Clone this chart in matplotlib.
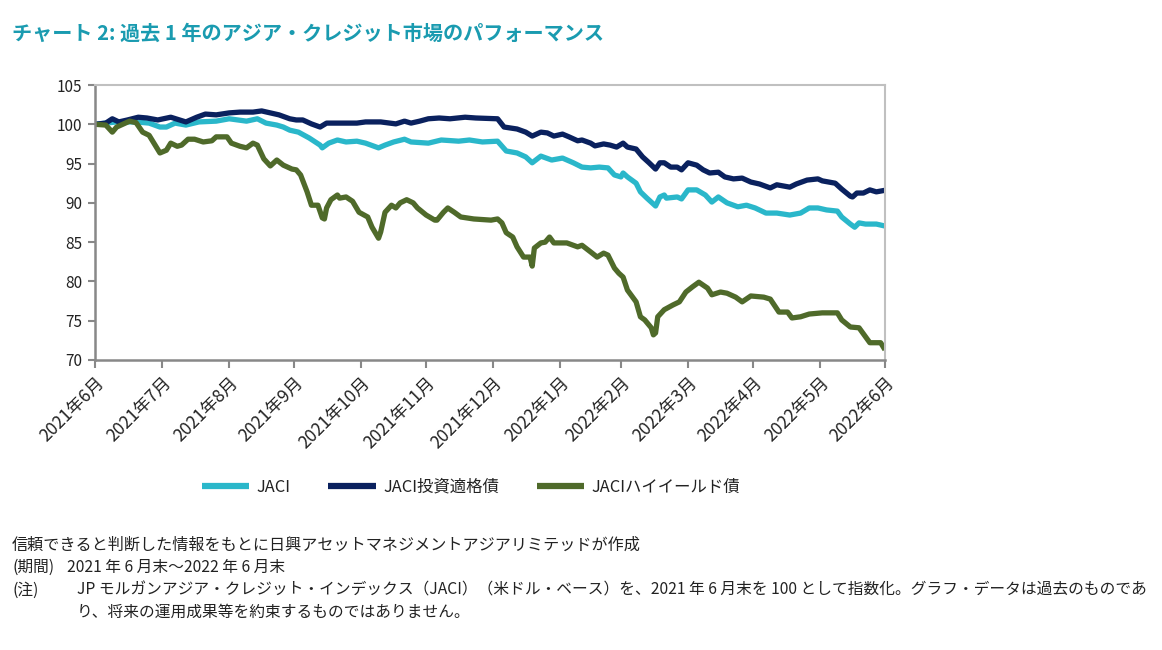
import matplotlib
matplotlib.use("Agg")
import matplotlib.pyplot as plt
import pandas as pd

plt.rcParams['font.family'] = ['Noto Sans CJK JP', 'DejaVu Sans']

title = "チャート 2: 過去 1 年のアジア・クレジット市場のパフォーマンス"
series_names = ["JACI", "JACI投資適格債", "JACIハイイールド債"]

jaci_dates = ["2021-06-30", "2021-07-05", "2021-07-10", "2021-07-19", "2021-07-25", "2021-07-30",
              "2021-08-02", "2021-08-06", "2021-08-11", "2021-08-17", "2021-08-25", "2021-08-31",
              "2021-09-08", "2021-09-13", "2021-09-17", "2021-09-22", "2021-09-25", "2021-09-28",
              "2021-10-02", "2021-10-07", "2021-10-12", "2021-10-13", "2021-10-16", "2021-10-20",
              "2021-10-24", "2021-10-29", "2021-11-02", "2021-11-08", "2021-11-11", "2021-11-15",
              "2021-11-20", "2021-11-23", "2021-12-01", "2021-12-07", "2021-12-15", "2021-12-20",
              "2021-12-26", "2022-01-02", "2022-01-06", "2022-01-11", "2022-01-15", "2022-01-18",
              "2022-01-22", "2022-01-27", "2022-02-01", "2022-02-06", "2022-02-10", "2022-02-14",
              "2022-02-18", "2022-02-22", "2022-02-25", "2022-02-28", "2022-03-01", "2022-03-03",
              "2022-03-07", "2022-03-09", "2022-03-12", "2022-03-16", "2022-03-18", "2022-03-20",
              "2022-03-21", "2022-03-26", "2022-03-28", "2022-03-31", "2022-04-04", "2022-04-08",
              "2022-04-11", "2022-04-14", "2022-04-18", "2022-04-23", "2022-04-27", "2022-05-01",
              "2022-05-06", "2022-05-11", "2022-05-17", "2022-05-22", "2022-05-26", "2022-05-30",
              "2022-06-03", "2022-06-08", "2022-06-10", "2022-06-14", "2022-06-16", "2022-06-18",
              "2022-06-21", "2022-06-26", "2022-06-30"]
jaci_vals = [100.0, 100.15, 100.3, 100.3, 100.15, 99.65,
             99.65, 100.15, 99.9, 100.3, 100.4, 100.7,
             100.4, 100.7, 100.15, 99.9, 99.65, 99.25,
             99.0, 98.25, 97.35, 97.0, 97.6, 98.0,
             97.75, 97.85, 97.6, 97.0, 97.35, 97.75,
             98.1, 97.75, 97.6, 98.0, 97.85, 98.0,
             97.75, 97.85, 96.6, 96.35, 95.85, 95.1,
             95.95, 95.45, 95.7, 95.1, 94.55, 94.45,
             94.55, 94.45, 93.55, 93.3, 93.8, 93.3,
             92.5, 91.4, 90.6, 89.6, 90.75, 91.0,
             90.6, 90.75, 90.5, 91.65, 91.65, 91.0,
             90.1, 90.75, 90.0, 89.5, 89.7, 89.35,
             88.7, 88.7, 88.45, 88.7, 89.35, 89.35,
             89.1, 88.95, 88.2, 87.3, 86.9, 87.45,
             87.3, 87.3, 87.05]

ig_dates = ["2021-06-30", "2021-07-05", "2021-07-08", "2021-07-11", "2021-07-15", "2021-07-20",
            "2021-07-24", "2021-07-29", "2021-08-04", "2021-08-11", "2021-08-16", "2021-08-20",
            "2021-08-25", "2021-08-31", "2021-09-05", "2021-09-11", "2021-09-15", "2021-09-19",
            "2021-09-23", "2021-09-28", "2021-10-01", "2021-10-04", "2021-10-08", "2021-10-12",
            "2021-10-15", "2021-10-20", "2021-10-24", "2021-10-29", "2021-11-02", "2021-11-09",
            "2021-11-16", "2021-11-20", "2021-11-23", "2021-11-27", "2021-12-01", "2021-12-06",
            "2021-12-11", "2021-12-18", "2021-12-23", "2022-01-02", "2022-01-05", "2022-01-11",
            "2022-01-15", "2022-01-18", "2022-01-22", "2022-01-25", "2022-01-28", "2022-02-01",
            "2022-02-04", "2022-02-08", "2022-02-10", "2022-02-14", "2022-02-16", "2022-02-20",
            "2022-02-23", "2022-02-26", "2022-03-01", "2022-03-03", "2022-03-07", "2022-03-10",
            "2022-03-13", "2022-03-16", "2022-03-18", "2022-03-20", "2022-03-23", "2022-03-26",
            "2022-03-28", "2022-03-31", "2022-04-04", "2022-04-07", "2022-04-10", "2022-04-14",
            "2022-04-17", "2022-04-21", "2022-04-25", "2022-04-29", "2022-05-03", "2022-05-08",
            "2022-05-11", "2022-05-17", "2022-05-20", "2022-05-25", "2022-05-30", "2022-06-01",
            "2022-06-07", "2022-06-10", "2022-06-14", "2022-06-15", "2022-06-17", "2022-06-20",
            "2022-06-23", "2022-06-26", "2022-06-30"]
ig_vals = [100.0, 100.15, 100.7, 100.3, 100.55, 100.9,
           100.8, 100.55, 100.9, 100.3, 100.9, 101.3,
           101.2, 101.45, 101.55, 101.55, 101.7, 101.45,
           101.2, 100.7, 100.55, 100.55, 100.05, 99.65,
           100.15, 100.15, 100.15, 100.15, 100.3, 100.3,
           100.05, 100.4, 100.15, 100.4, 100.7, 100.8,
           100.7, 100.9, 100.8, 100.7, 99.65, 99.4,
           99.0, 98.5, 99.0, 98.9, 98.5, 98.75,
           98.4, 97.9, 98.0, 97.6, 97.25, 97.5,
           97.35, 97.1, 97.6, 97.1, 96.85, 95.85,
           95.1, 94.3, 95.1, 95.1, 94.55, 94.55,
           94.2, 95.1, 94.8, 94.2, 93.8, 93.9,
           93.3, 93.05, 93.15, 92.65, 92.4, 91.9,
           92.3, 92.0, 92.4, 92.9, 93.05, 92.8,
           92.5, 91.75, 90.85, 90.75, 91.25, 91.25,
           91.65, 91.4, 91.6]

hy_dates = ["2021-06-30", "2021-07-05", "2021-07-08", "2021-07-10", "2021-07-16", "2021-07-19",
            "2021-07-22", "2021-07-25", "2021-07-30", "2021-08-02", "2021-08-04", "2021-08-07",
            "2021-08-09", "2021-08-12", "2021-08-15", "2021-08-19", "2021-08-23", "2021-08-25",
            "2021-08-30", "2021-09-01", "2021-09-05", "2021-09-08", "2021-09-11", "2021-09-13",
            "2021-09-16", "2021-09-19", "2021-09-22", "2021-09-25", "2021-09-29", "2021-10-01",
            "2021-10-03", "2021-10-06", "2021-10-08", "2021-10-11", "2021-10-13", "2021-10-14",
            "2021-10-15", "2021-10-17", "2021-10-20", "2021-10-21", "2021-10-24", "2021-10-27",
            "2021-10-30", "2021-11-03", "2021-11-05", "2021-11-08", "2021-11-09", "2021-11-11",
            "2021-11-14", "2021-11-16", "2021-11-18", "2021-11-21", "2021-11-24", "2021-11-26",
            "2021-11-30", "2021-12-04", "2021-12-05", "2021-12-08", "2021-12-10", "2021-12-13",
            "2021-12-16", "2021-12-22", "2021-12-30", "2022-01-02", "2022-01-04", "2022-01-06",
            "2022-01-09", "2022-01-11", "2022-01-14", "2022-01-17", "2022-01-18", "2022-01-19",
            "2022-01-22", "2022-01-24", "2022-01-26", "2022-01-28", "2022-02-03", "2022-02-08",
            "2022-02-10", "2022-02-14", "2022-02-17", "2022-02-20", "2022-02-22", "2022-02-25",
            "2022-02-27", "2022-03-01", "2022-03-03", "2022-03-07", "2022-03-09", "2022-03-11",
            "2022-03-14", "2022-03-15", "2022-03-16", "2022-03-17", "2022-03-20", "2022-03-24",
            "2022-03-27", "2022-03-30", "2022-04-02", "2022-04-05", "2022-04-09", "2022-04-11",
            "2022-04-15", "2022-04-18", "2022-04-22", "2022-04-25", "2022-04-29", "2022-05-05",
            "2022-05-08", "2022-05-12", "2022-05-16", "2022-05-18", "2022-05-22", "2022-05-26",
            "2022-06-01", "2022-06-08", "2022-06-10", "2022-06-14", "2022-06-18", "2022-06-23",
            "2022-06-28", "2022-06-30"]
hy_vals = [100.0, 99.9, 99.0, 99.65, 100.4, 100.2,
           99.0, 98.6, 96.35, 96.7, 97.6, 97.2,
           97.35, 98.1, 98.1, 97.75, 97.9, 98.4,
           98.4, 97.6, 97.2, 97.0, 97.6, 97.35,
           95.6, 94.7, 95.45, 94.8, 94.3, 94.2,
           93.55, 91.4, 89.7, 89.7, 88.1, 87.95,
           89.35, 90.4, 91.0, 90.6, 90.75, 90.2,
           88.8, 88.2, 86.9, 85.5, 86.3, 88.8,
           89.7, 89.35, 90.0, 90.4, 90.0, 89.35,
           88.45, 87.8, 87.8, 88.8, 89.35, 88.8,
           88.2, 87.95, 87.8, 87.95, 87.45, 86.2,
           85.65, 84.4, 83.1, 83.1, 81.95, 84.25,
           84.9, 85.0, 85.65, 84.9, 84.9, 84.4,
           84.6, 83.75, 83.1, 83.6, 83.35, 81.7,
           81.05, 80.55, 78.9, 77.4, 75.5, 75.1,
           74.1, 73.2, 73.45, 75.5, 76.4, 77.0,
           77.4, 78.65, 79.3, 79.9, 79.15, 78.3,
           78.65, 78.5, 78.0, 77.4, 78.15, 78.0,
           77.75, 76.1, 76.1, 75.35, 75.5, 75.85,
           76.0, 76.0, 75.1, 74.2, 74.1, 72.2,
           72.2, 71.3]

tick_dates = ["2021-06-30", "2021-07-31", "2021-08-31", "2021-09-30", "2021-10-31", "2021-11-30",
              "2021-12-31", "2022-01-31", "2022-02-28", "2022-03-31", "2022-04-30", "2022-05-31",
              "2022-06-30"]
tick_labels = ["2021年6月", "2021年7月", "2021年8月", "2021年9月", "2021年10月", "2021年11月",
               "2021年12月", "2022年1月", "2022年2月", "2022年3月", "2022年4月", "2022年5月",
               "2022年6月"]
y_ticks = [70, 75, 80, 85, 90, 95, 100, 105]

colors = ["#2AB7CA", "#0A215E", "#4F6A2A"]

fig = plt.figure(figsize=(11.62, 6.5), dpi=100)
ax = fig.add_axes([95 / 1162, 1 - 360 / 650, 790 / 1162, 275 / 650])

for dates, vals, name, c in [(jaci_dates, jaci_vals, series_names[0], colors[0]),
                             (ig_dates, ig_vals, series_names[1], colors[1]),
                             (hy_dates, hy_vals, series_names[2], colors[2])]:
    ax.plot(pd.to_datetime(dates), vals, color=c, lw=3.8, label=name,
            solid_joinstyle='round', solid_capstyle='butt')

ax.set_xlim(pd.Timestamp(tick_dates[0]), pd.Timestamp(tick_dates[-1]))
ax.set_ylim(70, 105)
ax.set_yticks(y_ticks)
ax.set_yticklabels([str(v) for v in y_ticks], fontsize=11, color="#222222")
ax.set_xticks(pd.to_datetime(tick_dates))
ax.set_xticklabels(tick_labels, rotation=45, ha='right', rotation_mode='anchor',
                   fontsize=12.5, color="#222222")
ax.tick_params(axis='x', direction='out', length=6, width=1.5, color="#888888", pad=4)
ax.tick_params(axis='y', direction='out', length=5, width=1.5, color="#888888", pad=4)
for s in ['left', 'bottom']:
    ax.spines[s].set_color("#888888")
    ax.spines[s].set_linewidth(1.8)
for s in ['top', 'right']:
    ax.spines[s].set_color("#C0C0C0")
    ax.spines[s].set_linewidth(1.5)

leg = fig.legend(loc='center', bbox_to_anchor=(471 / 1162, 1 - 487 / 650), ncol=3,
                 frameon=False, fontsize=11.8, handlelength=2.9, handletextpad=0.45,
                 columnspacing=2.3)
for line in leg.get_lines():
    line.set_linewidth(4.5)
for t in leg.get_texts():
    t.set_color("#222222")

fig.text(12 / 1162, 1 - 33 / 650, title, fontsize=14.5, fontweight='bold',
         color="#1A9BB0", ha='left', va='center')

note_color = "#222222"
fs = 11.3
fig.text(12 / 1162, 1 - 545 / 650, "信頼できると判断した情報をもとに日興アセットマネジメントアジアリミテッドが作成",
         fontsize=11.6, color=note_color, ha='left', va='center')
fig.text(12 / 1162, 1 - 567 / 650, "(期間)", fontsize=fs, color=note_color, ha='left', va='center')
fig.text(67 / 1162, 1 - 567 / 650, "2021 年 6 月末～2022 年 6 月末", fontsize=fs, color=note_color,
         ha='left', va='center')
fig.text(12 / 1162, 1 - 590 / 650, "(注)", fontsize=fs, color=note_color, ha='left', va='center')
fig.text(77 / 1162, 1 - 590 / 650,
         "JP モルガンアジア・クレジット・インデックス（JACI）（米ドル・ベース）を、2021 年 6 月末を 100 として指数化。グラフ・データは過去のものであ",
         fontsize=fs, color=note_color, ha='left', va='center')
fig.text(77 / 1162, 1 - 612 / 650, "り、将来の運用成果等を約束するものではありません。",
         fontsize=fs, color=note_color, ha='left', va='center')

fig.savefig("out.png", dpi=100)
